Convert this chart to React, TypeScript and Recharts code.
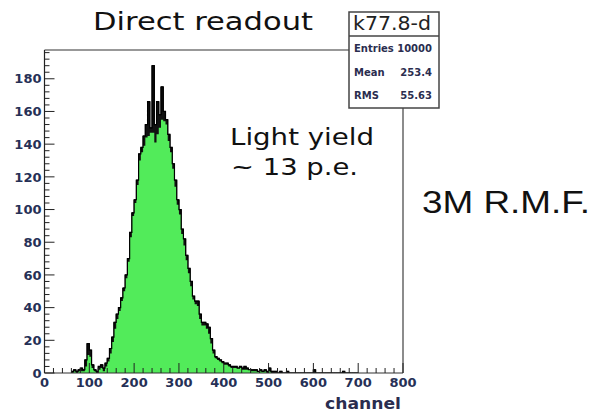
import React from 'react';
import { ComposedChart, Area, Line, XAxis, YAxis, ReferenceLine } from 'recharts';

// histogram bins, 5 channels wide, starting at channel 60
const BIN_START = 60;
const BIN_WIDTH = 5;

// black outline (includes the spikes)
const outlineCounts = [
  1, 2, 1, 2, 3, 2, 8, 18, 14, 5,
  2, 1, 4, 5, 3, 6, 9, 15, 22, 31,
  36, 40, 46, 52, 60, 70, 86, 98, 106, 118,
  134, 138, 145, 152, 166, 150, 188, 152, 166, 158,
  175, 160, 155, 146, 138, 128, 118, 106, 100, 88,
  82, 72, 64, 56, 47, 44, 44, 36, 31, 31,
  30, 28, 21, 14, 10, 9, 8, 7, 6, 6,
  5, 4, 4, 4, 3, 4, 3, 4, 3, 2,
  2, 2, 2, 1, 2, 1, 2, 1, 3, 1,
  1, 1, 0, 1, 0, 0, 1, 0, 0, 0,
  0, 0, 0, 0, 0, 0, 0, 0, 2, 0,
  0, 0, 0, 0, 0, 0, 0, 0, 0, 0,
  0, 1, 0, 0, 0, 0, 0, 0, 0,
];

// green filled part
const fillCounts = [
  0, 1, 0, 1, 1, 1, 4, 11, 10, 3,
  1, 0, 2, 3, 1, 4, 7, 12, 19, 27,
  33, 38, 44, 50, 58, 68, 83, 96, 104, 115,
  130, 135, 139, 144, 145, 147, 147, 141, 146, 150,
  155, 154, 152, 142, 135, 125, 114, 103, 97, 85,
  78, 69, 61, 53, 45, 42, 41, 33, 29, 29,
  27, 24, 18, 12, 9, 8, 7, 6, 5, 5,
  4, 3, 3, 3, 3, 3, 2, 2, 2, 2,
  1, 1, 1, 1, 1, 1, 1, 0, 1, 0,
  0, 0, 0, 0, 0, 0, 0, 0, 0, 0,
  0, 0, 0, 0, 0, 0, 0, 0, 0, 0,
  0, 0, 0, 0, 0, 0, 0, 0, 0, 0,
  0, 0, 0, 0, 0, 0, 0, 0, 0,
];

const X_MAX = 800;
const Y_MAX = 197.6;

const xTicks = [0, 20, 40, 60, 80, 100, 120, 140, 160, 180, 200, 220, 240, 260, 280, 300,
  320, 340, 360, 380, 400, 420, 440, 460, 480, 500, 520, 540, 560, 580, 600, 620, 640, 660,
  680, 700, 720, 740, 760, 780, 800];
const yTicks = [0, 4, 8, 12, 16, 20, 24, 28, 32, 36, 40, 44, 48, 52, 56, 60, 64, 68, 72, 76, 80,
  84, 88, 92, 96, 100, 104, 108, 112, 116, 120, 124, 128, 132, 136, 140, 144, 148, 152, 156,
  160, 164, 168, 172, 176, 180, 184, 188, 192, 196];

const stats = [
  { label: 'Entries', value: '10000' },
  { label: 'Mean', value: '253.4' },
  { label: 'RMS', value: '55.63' },
];

const data = outlineCounts.map((c, i) => ({
  ch: BIN_START + i * BIN_WIDTH,
  outline: c,
  fill: fillCounts[i],
}));

const tickFont = { fontFamily: 'DejaVu Sans', fontWeight: 700, fontSize: 13, fill: '#263056' };

const XTick = (props: any) => {
  const { x, y, payload } = props;
  const v = payload.value;
  const major = v % 100 === 0;
  return (
    <g>
      <line x1={x} x2={x} y1={y} y2={y - (major ? 10 : 5)} stroke="#222" strokeWidth={1} />
      {major && (
        <text x={x} y={y + 14} textAnchor="middle" {...tickFont}>{v}</text>
      )}
    </g>
  );
};

const YTick = (props: any) => {
  const { x, y, payload } = props;
  const v = payload.value;
  const major = v % 20 === 0;
  return (
    <g>
      <line x1={x} x2={x + (major ? 10 : 5)} y1={y} y2={y} stroke="#222" strokeWidth={1} />
      {major && (
        <text x={x - 3} y={y} dy="0.36em" textAnchor="end" {...tickFont}>{v}</text>
      )}
    </g>
  );
};

export default function App() {
  return (
    <div style={{ position: 'absolute', left: 0, top: 0, width: 592, height: 413, background: '#fff' }}>
      <ComposedChart
        width={592}
        height={413}
        data={data}
        margin={{ top: 50, right: 189, bottom: 0, left: 0 }}
      >
        <XAxis
          dataKey="ch"
          type="number"
          domain={[0, X_MAX]}
          ticks={xTicks}
          interval={0}
          height={40}
          tickSize={0}
          tickMargin={0}
          tick={<XTick />}
          tickLine={false}
          axisLine={{ stroke: '#333', strokeWidth: 1.2 }}
        />
        <YAxis
          type="number"
          domain={[0, Y_MAX]}
          ticks={yTicks}
          interval={0}
          width={44.5}
          tickSize={0}
          tickMargin={0}
          tick={<YTick />}
          tickLine={false}
          axisLine={{ stroke: '#222', strokeWidth: 1.2 }}
          allowDataOverflow
        />
        {/* dark band of the fine-binned outline */}
        <Area
          dataKey="outline"
          type="stepAfter"
          fill="#111"
          fillOpacity={1}
          stroke="#000"
          strokeWidth={1}
          isAnimationActive={false}
          dot={false}
          activeDot={false}
        />
        <Area
          dataKey="fill"
          type="stepAfter"
          fill="#52eb5a"
          fillOpacity={1}
          stroke="none"
          isAnimationActive={false}
          dot={false}
          activeDot={false}
        />
        <Line
          dataKey="outline"
          type="stepAfter"
          stroke="#000"
          strokeWidth={1.2}
          isAnimationActive={false}
          dot={false}
          activeDot={false}
        />
        {/* frame: top and right edges */}
        <ReferenceLine y={Y_MAX} stroke="#333" strokeWidth={1.2} />
        <ReferenceLine x={X_MAX} stroke="#666" strokeWidth={1.5} />
      </ComposedChart>

      <svg
        width={592}
        height={413}
        style={{ position: 'absolute', left: 0, top: 0, pointerEvents: 'none' }}
      >
        <text x={93} y={30} fontFamily="DejaVu Sans" fontSize={25} fill="#111"
          textLength={220} lengthAdjust="spacingAndGlyphs">Direct readout</text>

        {/* stats box */}
        <rect x={349} y={12} width={90} height={96} fill="#fff" stroke="#444" strokeWidth={1.5} />
        <line x1={349} x2={439} y1={36} y2={36} stroke="#444" strokeWidth={1.5} />
        <text x={353} y={30} fontFamily="DejaVu Sans" fontSize={19} fill="#222"
          textLength={78} lengthAdjust="spacingAndGlyphs">k77.8-d</text>
        {stats.map((s, i) => (
          <g key={s.label}>
            <text x={354} y={52 + i * 23.5} fontFamily="DejaVu Sans" fontWeight={700} fontSize={10}
              fill="#2a2d4f">{s.label}</text>
            <text x={432} y={52 + i * 23.5} textAnchor="end" fontFamily="DejaVu Sans" fontWeight={700}
              fontSize={10} fill="#2a2d4f">{s.value}</text>
          </g>
        ))}

        <text x={230} y={145} fontFamily="DejaVu Sans" fontSize={23} fill="#111"
          textLength={144} lengthAdjust="spacingAndGlyphs">Light yield</text>
        <text x={231} y={175} fontFamily="DejaVu Sans" fontSize={23} fill="#111"
          textLength={127} lengthAdjust="spacingAndGlyphs">~ 13 p.e.</text>
        <text x={422} y={213} fontFamily="Liberation Sans" fontSize={32} fill="#111"
          textLength={168} lengthAdjust="spacingAndGlyphs">3M R.M.F.</text>
        <text x={401} y={409} textAnchor="end" fontFamily="DejaVu Sans" fontWeight={700} fontSize={15}
          fill="#2a2d4f" textLength={76} lengthAdjust="spacingAndGlyphs">channel</text>
      </svg>
    </div>
  );
}
